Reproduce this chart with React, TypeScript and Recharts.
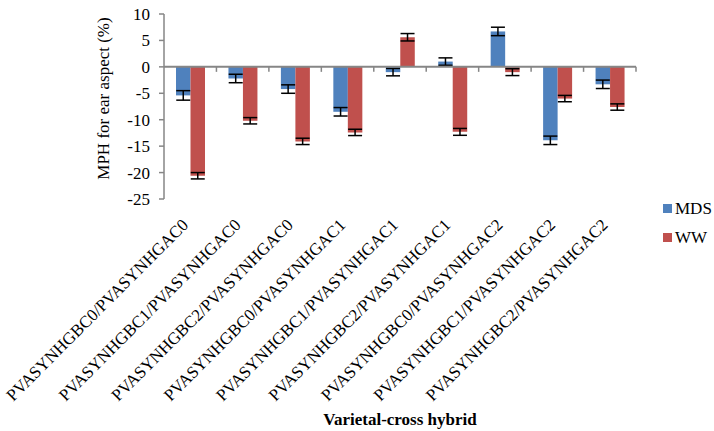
import React from "react";
import {
  Bar,
  BarChart,
  ErrorBar,
  Legend,
  ReferenceLine,
  XAxis,
  YAxis,
} from "recharts";

const categories = [
  "PVASYNHGBC0/PVASYNHGAC0",
  "PVASYNHGBC1/PVASYNHGAC0",
  "PVASYNHGBC2/PVASYNHGAC0",
  "PVASYNHGBC0/PVASYNHGAC1",
  "PVASYNHGBC1/PVASYNHGAC1",
  "PVASYNHGBC2/PVASYNHGAC1",
  "PVASYNHGBC0/PVASYNHGAC2",
  "PVASYNHGBC1/PVASYNHGAC2",
  "PVASYNHGBC2/PVASYNHGAC2",
];
const mds = [-5.4, -2.2, -4.2, -8.5, -1.0, 1.0, 6.7, -13.9, -3.3];
const mdsErr = [0.9, 0.8, 0.8, 0.8, 0.7, 0.7, 0.8, 0.8, 0.8];
const ww = [-20.6, -10.2, -14.1, -12.4, 5.6, -12.3, -1.0, -6.0, -7.6];
const wwErr = [0.6, 0.6, 0.6, 0.6, 0.7, 0.65, 0.65, 0.6, 0.6];
const yTicks = [-25, -20, -15, -10, -5, 0, 5, 10];

const data = categories.map((name, i) => ({
  name,
  MDS: mds[i],
  mdsErr: mdsErr[i],
  WW: ww[i],
  wwErr: wwErr[i],
}));

const FONT = '"Liberation Serif", "Times New Roman", serif';
const AXIS_GRAY = "#868686";

function XTick(props: any) {
  const { x, y, payload } = props;
  const ax = x - 1;
  const ay = y + 19;
  return (
    <text
      x={ax}
      y={ay}
      transform={`rotate(-45, ${ax}, ${ay})`}
      textAnchor="end"
      fontSize={17}
      fontFamily={FONT}
      fill="#000"
    >
      {payload.value}
    </text>
  );
}

// zero line with category-boundary tick marks, like the Excel axis crossing at 0
function ZeroAxis(props: any) {
  const { x1, y1, x2 } = props;
  const n = categories.length;
  const step = (x2 - x1) / n;
  const marks = [];
  for (let i = 1; i <= n; i++) {
    const tx = x1 + step * i;
    marks.push(
      <line key={i} x1={tx} y1={y1} x2={tx} y2={y1 + 5} stroke={AXIS_GRAY} strokeWidth={1.5} />
    );
  }
  return (
    <g>
      <line x1={x1} y1={y1} x2={x2} y2={y1} stroke={AXIS_GRAY} strokeWidth={2} />
      {marks}
    </g>
  );
}

function LegendBox(props: any) {
  const { payload } = props;
  return (
    <div style={{ fontFamily: FONT, fontSize: 17, color: "#000" }}>
      {(payload || []).map((p: any) => (
        <div key={p.value} style={{ display: "flex", alignItems: "center", height: 29 }}>
          <span style={{ width: 9, height: 9, background: p.color, marginRight: 3 }} />
          <span>{p.value}</span>
        </div>
      ))}
    </div>
  );
}

export default function App() {
  return (
    <div style={{ position: "absolute", left: 0, top: 0 }}>
      <BarChart
        width={714}
        height={431}
        data={data}
        margin={{ top: 14, right: 78, left: 0, bottom: 0 }}
        barGap={0}
        barSize={14.5}
      >
        <XAxis
          dataKey="name"
          axisLine={false}
          tickLine={false}
          interval={0}
          height={232}
          tick={<XTick />}
          label={{
            value: "Varietal-cross hybrid",
            position: "insideBottom",
            offset: 6,
            style: { fontFamily: FONT, fontSize: 17, fontWeight: "bold", fill: "#000" },
          }}
        />
        <YAxis
          domain={[-25, 10]}
          ticks={yTicks}
          width={164}
          axisLine={{ stroke: AXIS_GRAY, strokeWidth: 1.5 }}
          tickLine={{ stroke: AXIS_GRAY, strokeWidth: 1.5 }}
          tickSize={5}
          tickMargin={9}
          tick={{ fontFamily: FONT, fontSize: 17, fill: "#000" }}
          label={{
            value: "MPH for ear aspect (%)",
            angle: -90,
            position: "center",
            dx: 21,
            dy: -8,
            style: { fontFamily: FONT, fontSize: 17, fill: "#000", textAnchor: "middle" },
          }}
        />
        <Legend
          layout="vertical"
          align="center"
          verticalAlign="middle"
          content={<LegendBox />}
          wrapperStyle={{ left: 663, top: 194, width: 60 }}
        />
        <Bar dataKey="MDS" fill="#4F81BD" isAnimationActive={false}>
          <ErrorBar dataKey="mdsErr" width={7} stroke="#000" strokeWidth={1.5} />
        </Bar>
        <Bar dataKey="WW" fill="#C0504D" isAnimationActive={false}>
          <ErrorBar dataKey="wwErr" width={7} stroke="#000" strokeWidth={1.5} />
        </Bar>
        <ReferenceLine y={0} shape={<ZeroAxis />} />
      </BarChart>
    </div>
  );
}
